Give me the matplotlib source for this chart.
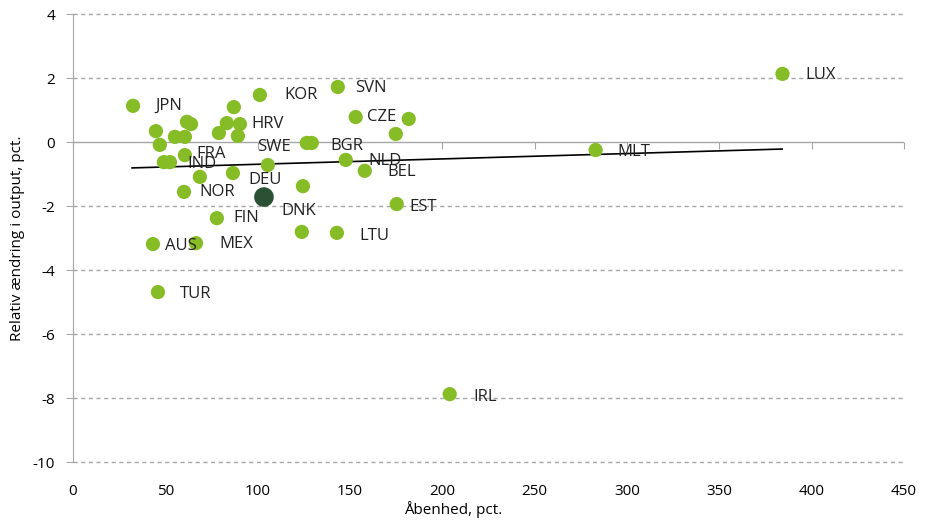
import matplotlib
matplotlib.use("Agg")
import matplotlib.pyplot as plt

plt.rcParams['font.family'] = ['Open Sans', 'DejaVu Sans']

# Data: openness (x, pct.) and relative change in output (y, pct.)
countries = ["JPN", "", "", "", "", "", "", "IND", "", "FRA", "", "NOR",
             "", "", "HRV", "", "", "", "KOR", "SWE", "DEU", "FIN", "AUS", "MEX",
             "TUR", "", "SVN", "CZE", "", "", "", "BGR", "NLD", "BEL", "EST",
             "DNK", "LTU", "MLT", "LUX", "IRL"]
openness = [32.5, 44.9, 47.0, 55.2, 60.6, 61.7, 63.9, 52.5, 49.2, 60.6, 68.7, 60.1,
            79.0, 83.3, 90.4, 89.3, 87.1, 86.6, 101.2, 105.5, 103.4, 77.9, 43.3, 66.6,
            46.0, 124.5, 143.4, 153.1, 181.8, 174.8, 126.6, 129.3, 147.7, 158.0, 175.3,
            123.9, 142.9, 283.0, 384.2, 204.0]
output_change = [1.13, 0.34, -0.09, 0.16, 0.16, 0.63, 0.56, -0.63, -0.63, -0.41, -1.09, -1.56,
                 0.28, 0.59, 0.56, 0.19, 1.09, -0.97, 1.47, -0.72, -1.72, -2.38, -3.19, -3.16,
                 -4.69, -1.38, 1.72, 0.78, 0.72, 0.25, -0.03, -0.03, -0.56, -0.90, -1.94,
                 -2.81, -2.84, -0.25, 2.13, -7.88]
highlight = "DEU"

# Trend line endpoints
trend_x = [32, 384]
trend_y = [-0.81, -0.22]

x_ticks = [0, 50, 100, 150, 200, 250, 300, 350, 400, 450]
y_ticks = [4, 2, 0, -2, -4, -6, -8, -10]

# label offsets in pixels (style)
label_offsets = {
    "JPN": (22, 0), "KOR": (24, 0), "SVN": (17, -1), "CZE": (11, 0), "HRV": (11, 0),
    "SWE": (-11, 18), "BGR": (19, -3), "FRA": (11, 1), "IND": (17, -2), "NLD": (23, -1),
    "BEL": (23, -1), "DEU": (-16, 17), "NOR": (15, 0), "DNK": (-20, 21), "EST": (13, -3),
    "FIN": (17, 0), "LTU": (22, -3), "AUS": (12, -2), "MEX": (23, -1), "TUR": (22, -2),
    "MLT": (22, -2), "LUX": (23, -1), "IRL": (24, -3),
}

green = '#86BC25'
dark = '#2B5135'
grid_c = '#A6A6A6'

fig = plt.figure(figsize=(9.26, 5.23), dpi=100)
ax = fig.add_axes([73/926, 1-462/523, (904-73)/926, (462-14)/523])

ax.set_xlim(0, 450)
ax.set_ylim(-10, 4)

for yv in y_ticks:
    if yv == 0:
        ax.axhline(yv, color=grid_c, lw=1.0, zorder=1)
    else:
        ax.axhline(yv, color=grid_c, lw=1.0, ls=(0, (3, 2.5)), zorder=1, clip_on=False)

ax.plot(trend_x, trend_y, color='black', lw=1.2, zorder=2)

cols = [dark if c == highlight else green for c in countries]
sizes = [200 if c == highlight else 105 for c in countries]
ax.scatter(openness, output_change, s=sizes, c=cols, linewidths=0, zorder=3)

for c, xv, yv in zip(countries, openness, output_change):
    if c:
        dx, dy = label_offsets.get(c, (12, 0))
        ax.annotate(c, (xv, yv), xytext=(dx, dy), textcoords='offset pixels',
                    ha='left', va='center', fontsize=12, color='#222222', zorder=4)

for s in ['top', 'right', 'bottom']:
    ax.spines[s].set_visible(False)
ax.spines['left'].set_color(grid_c)

ax.set_yticks(y_ticks)
ax.set_yticklabels([str(v) for v in y_ticks])
ax.tick_params(axis='y', length=5, color=grid_c, labelsize=11, pad=8)
ax.set_xticks(x_ticks)
ax.set_xticklabels([str(v) for v in x_ticks])
ax.tick_params(axis='x', length=0, labelsize=11, pad=16)

sec = ax.secondary_xaxis(10/14)
sec.set_xticks(x_ticks)
sec.tick_params(axis='x', direction='out', length=5, color=grid_c, labelbottom=False, labeltop=False)
sec.xaxis.set_ticks_position('bottom')
sec.tick_params(labelbottom=False)
for s in sec.spines.values():
    s.set_visible(False)

fig.text(453/926, 1-509/523, "Åbenhed, pct.", ha='center', va='center', fontsize=11)
fig.text(18/926, 1-238/523, "Relativ ændring i output, pct.", ha='center', va='center',
         rotation=90, fontsize=11)

fig.savefig("out.png", dpi=100)
